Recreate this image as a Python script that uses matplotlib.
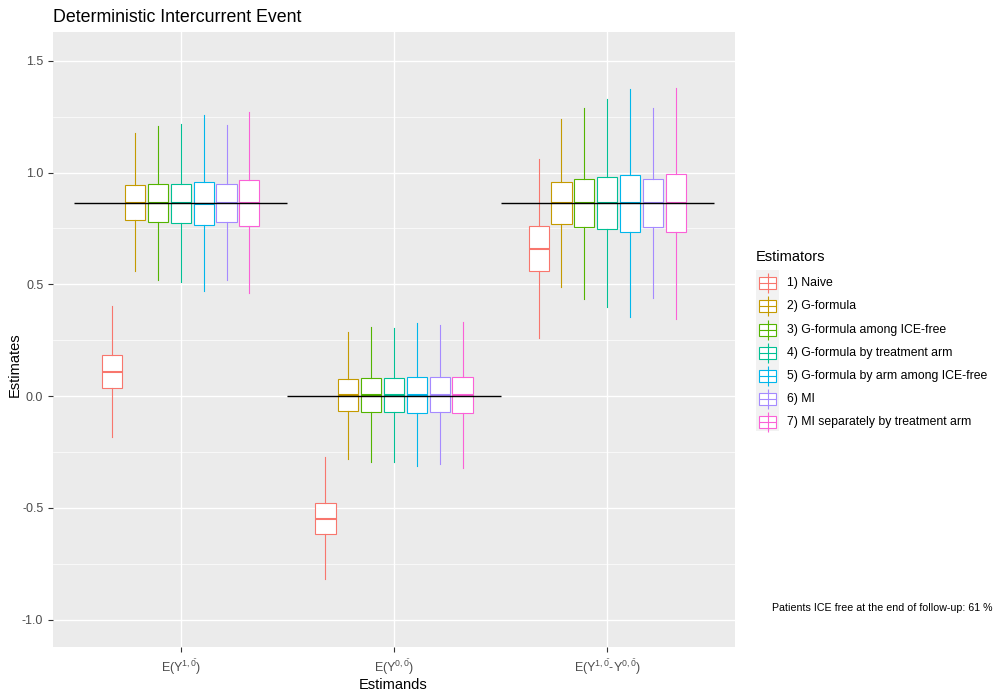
import numpy as np
import matplotlib.pyplot as plt
from matplotlib.patches import Rectangle

plt.rcParams['font.family'] = ['Liberation Sans', 'DejaVu Sans']
plt.rcParams['mathtext.fontset'] = 'custom'
plt.rcParams['mathtext.rm'] = 'Liberation Sans'
plt.rcParams['mathtext.it'] = 'Liberation Sans'
plt.rcParams['axes.unicode_minus'] = False

estimands = [r'$\mathregular{E(Y^{1,\bar{0}})}$',
             r'$\mathregular{E(Y^{0,\bar{0}})}$',
             r'$\mathregular{E(Y^{1,\bar{0}}}$-$\mathregular{Y^{0,\bar{0}})}$']
estimators = ['1) Naive', '2) G-formula', '3) G-formula among ICE-free',
              '4) G-formula by treatment arm', '5) G-formula by arm among ICE-free',
              '6) MI', '7) MI separately by treatment arm']
colors = ['#F8766D', '#C49A00', '#53B400', '#00C094', '#00B6EB', '#A58AFF', '#FB61D7']
truth = [0.862, 0.0, 0.862]

# box stats per estimand, one row per estimator: [whislo, q1, med, q3, whishi]
stats_y1 = [[-0.183, 0.036, 0.107, 0.183, 0.403],
            [0.561, 0.786, 0.865, 0.943, 1.177],
            [0.521, 0.777, 0.865, 0.951, 1.208],
            [0.512, 0.773, 0.865, 0.951, 1.217],
            [0.471, 0.764, 0.858, 0.960, 1.257],
            [0.521, 0.777, 0.865, 0.951, 1.212],
            [0.462, 0.759, 0.865, 0.965, 1.270]]
stats_y0 = [[-0.817, -0.619, -0.549, -0.480, -0.273],
            [-0.282, -0.069, 0.004, 0.075, 0.286],
            [-0.295, -0.073, 0.004, 0.079, 0.309],
            [-0.295, -0.073, 0.004, 0.079, 0.304],
            [-0.312, -0.078, 0.004, 0.084, 0.327],
            [-0.304, -0.073, 0.004, 0.084, 0.318],
            [-0.321, -0.078, 0.004, 0.084, 0.331]]
stats_diff = [[0.261, 0.558, 0.659, 0.759, 1.060],
              [0.489, 0.768, 0.865, 0.956, 1.239],
              [0.435, 0.755, 0.865, 0.969, 1.289],
              [0.400, 0.746, 0.865, 0.978, 1.329],
              [0.355, 0.732, 0.865, 0.987, 1.374],
              [0.440, 0.755, 0.865, 0.969, 1.289],
              [0.346, 0.732, 0.865, 0.992, 1.378]]
all_stats = [stats_y1, stats_y0, stats_diff]

fig = plt.figure(figsize=(10, 7), dpi=100)
ax = fig.add_axes([53/1000, 1-647/700, (735-53)/1000, (647-32)/700])
ax.set_facecolor('#EBEBEB')

n = len(estimators)
dodge = 0.75 / n
bw = dodge * 0.88
for g, st in enumerate(all_stats):
    for j, (lo, q1, med, q3, hi) in enumerate(st):
        pos = g + 1 + (j - (n - 1) / 2) * dodge
        c = colors[j]
        ax.bxp([dict(whislo=lo, q1=q1, med=med, q3=q3, whishi=hi, fliers=[])],
               positions=[pos], widths=bw, patch_artist=True, showcaps=False,
               boxprops=dict(facecolor='white', edgecolor=c, linewidth=0.8),
               whiskerprops=dict(color=c, linewidth=0.8),
               medianprops=dict(color=c, linewidth=1.5),
               manage_ticks=False)
    ax.hlines(truth[g], g + 0.5, g + 1.5, color='black', linewidth=1.0, zorder=5)

ax.set_xlim(0.4, 3.6)
ax.set_ylim(-1.123, 1.629)
ax.set_xticks([1, 2, 3])
ax.set_xticklabels(estimands)
ax.set_yticks([-1.0, -0.5, 0.0, 0.5, 1.0, 1.5])
ax.set_yticks([-0.75, -0.25, 0.25, 0.75, 1.25], minor=True)
ax.grid(True, which='major', color='white', linewidth=1.0)
ax.grid(True, which='minor', axis='y', color='white', linewidth=0.5)
ax.set_axisbelow(True)
for s in ax.spines.values():
    s.set_visible(False)
ax.tick_params(axis='both', which='major', colors='#333333', labelcolor='#4D4D4D',
               labelsize=9, length=3.5, width=0.8)
ax.tick_params(axis='y', which='minor', length=0)
ax.set_xlabel('Estimands', fontsize=10.5)
ax.set_ylabel('Estimates', fontsize=10.5)
ax.xaxis.set_label_coords((393 - 53) / 682, -(685 - 647) / 615)
ax.yaxis.set_label_coords(-(53 - 15) / 682, (647 - 365) / 615)
ax.xaxis.label.set_va('center')
ax.yaxis.label.set_va('center')
ax.set_title('Deterministic Intercurrent Event', fontsize=12.8, loc='left', pad=7)

# legend drawn in pixel coordinates
lax = fig.add_axes([0, 0, 1, 1])
lax.set_xlim(0, 1000)
lax.set_ylim(700, 0)
lax.axis('off')
lax.text(756, 257, 'Estimators', fontsize=10.5, va='center', ha='left')
lax.add_patch(Rectangle((756, 270), 23, 161, facecolor='#F2F2F2', edgecolor='none'))
y0, step = 283.3, 23.1
for j, (lab, c) in enumerate(zip(estimators, colors)):
    yc = y0 + j * step
    lax.vlines(767.5, yc - 10, yc + 10, color=c, linewidth=0.8)
    lax.add_patch(Rectangle((759, yc - 6), 17, 12, facecolor='white', edgecolor=c, linewidth=0.8))
    lax.hlines(yc, 759, 776, color=c, linewidth=0.8)
    lax.text(787, yc, lab, fontsize=8.8, va='center', ha='left')

fig.text(993/1000, 1-608/700, 'Patients ICE free at the end of follow-up: 61 %',
         fontsize=7.7, ha='right', va='center')

fig.savefig('out.png', dpi=100)
